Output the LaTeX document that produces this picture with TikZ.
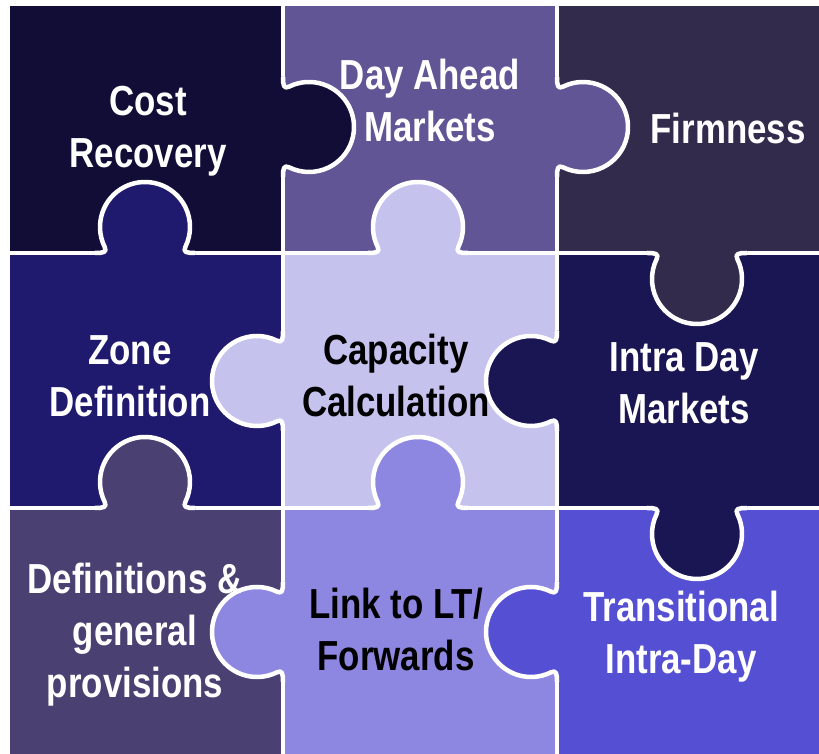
\documentclass[tikz,border=0pt]{standalone}
\usepackage{fontspec}
\newfontfamily\piecefont[FakeStretch=0.83]{Liberation Sans}
\usetikzlibrary{calc}
\definecolor{costcol}{HTML}{110D37}
\definecolor{daycol}{HTML}{615596}
\definecolor{firmcol}{HTML}{332B4C}
\definecolor{zonecol}{HTML}{201A6E}
\definecolor{capcol}{HTML}{C5C2EE}
\definecolor{intracol}{HTML}{1A1553}
\definecolor{defcol}{HTML}{4A4071}
\definecolor{linkcol}{HTML}{8D87E1}
\definecolor{transcol}{HTML}{544FD3}
\tikzset{
	seam/.style={draw=white, line width=4.5pt, line join=round},
	piecetext/.style={align=center, inner sep=0pt, text=white,
		font=\piecefont\bfseries\fontsize{42}{52}\selectfont}
}
% tab of a piece: fill colour, point on the edge, rotation (0 = pointing up)
\def\piecetab[#1](#2)(#3){%
	\fill[#1, shift={(#2)}, rotate=#3] (-50,-4) -- (-50,0) .. controls (-42,0) and (-37.6,0.6) .. (-40.3,6)
		arc (206.4:-26.4:45) .. controls (37.6,0.6) and (42,0) .. (50,0) -- (50,-4) -- cycle;
	\draw[seam, shift={(#2)}, rotate=#3] (-50,0) .. controls (-42,0) and (-37.6,0.6) .. (-40.3,6)
		arc (206.4:-26.4:45) .. controls (37.6,0.6) and (42,0) .. (50,0);}

\begin{document}
\begin{tikzpicture}[x=1pt, y=1pt]
		%%%%% START %%%%%
		\useasboundingbox[fill=white] (0, 0) rectangle (819, 754);
		
		\fill[costcol] (10, 501) rectangle (283, 748);
		\fill[daycol] (283, 501) rectangle (557, 748);
		\fill[firmcol] (557, 501) rectangle (819, 748);
		\fill[zonecol] (10, 246) rectangle (283, 501);
		\fill[capcol] (283, 246) rectangle (557, 501);
		\fill[intracol] (557, 246) rectangle (819, 501);
		\fill[defcol] (10, 0) rectangle (283, 246);
		\fill[linkcol] (283, 0) rectangle (557, 246);
		\fill[transcol] (557, 0) rectangle (819, 246);
		
		\draw[seam] (283, 748) -- (283, 0);
		\draw[seam] (557, 748) -- (557, 0);
		\draw[seam] (10, 501) -- (819, 501);
		\draw[seam] (10, 246) -- (819, 246);
		
		\piecetab[costcol](283, 627)(-90);
		\piecetab[daycol](557, 627)(-90);
		\piecetab[zonecol](145, 501)(0);
		\piecetab[capcol](418, 501)(0);
		\piecetab[firmcol](697, 501)(180);
		\piecetab[capcol](283, 373)(90);
		\piecetab[intracol](557, 373)(90);
		\piecetab[defcol](145, 246)(0);
		\piecetab[linkcol](418, 246)(0);
		\piecetab[intracol](697, 246)(180);
		\piecetab[linkcol](283, 122)(90);
		\piecetab[transcol](557, 122)(90);
		
		\node[piecetext] (cost) at (148, 623) {Cost\\Recovery};
		\node[piecetext] (dayahead) at (430, 654) {Day Ahead\\Markets};
		\node[piecetext] (firmness) at (728, 626) {Firmness};
		\node[piecetext] (zone) at (130, 378) {Zone\\Definition};
		\node[piecetext, text=black] (capacity) at (396, 379) {Capacity\\Calculation};
		\node[piecetext] (intraday) at (684, 371) {Intra Day\\Markets};
		\node[piecetext] (definitions) at (135, 119) {Definitions \&\\general\\provisions};
		\node[piecetext, text=black] (link) at (396, 125) {Link to LT/\\Forwards};
		\node[piecetext] (transitional) at (681, 117) {Transitional\\Intra-Day};
		%%%%% END %%%%%
\end{tikzpicture}
\end{document}
